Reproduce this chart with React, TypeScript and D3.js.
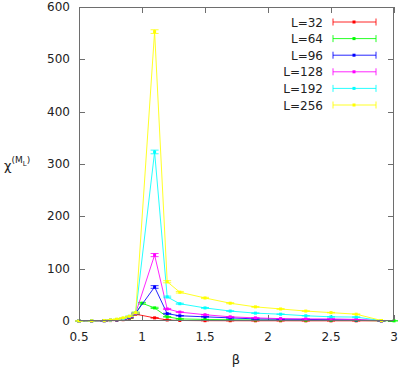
import React from "react";
import * as d3 from "d3";

const beta = [0.5, 0.6, 0.7, 0.75, 0.8, 0.85, 0.9, 0.95, 1.0, 1.1, 1.2, 1.3, 1.5, 1.7, 1.9, 2.1, 2.3, 2.5, 2.7, 2.9, 3.0];

// null = no measurement at that β for this lattice size
const chi32 = [0.1, 0.2, 0.5, 0.8, 1.5, 2.5, 5, 13, null, 6, 2, 1, 0.6, 0.5, 0.4, 0.4, 0.3, 0.3, 0.3, 0.2, null];
const chi64 = [0.1, 0.2, 0.6, 1, 2, 3, 6, 14, 34, 25, 8, 4, 3, 2.5, 2, 1.8, 1.5, 1.3, 1.2, 0.5, 0.3];
const chi96 = [0.1, 0.3, 0.7, 1.2, 2.2, 3.5, 7, 15, null, 65, 14, 10, 8, 6, 4, 3.5, 3, 2.5, 2, 0.6, null];
const chi128 = [0.1, 0.3, 0.8, 1.4, 2.5, 4, 8, 15, null, 126, 23, 17, 12, 8, 6, 4.5, 4, 4, 3, 0.7, null];
const chi192 = [0.1, 0.4, 0.9, 1.6, 3, 5, 9, 16, null, 323, 46, 33, 25, 19, 15, 13, 10, 8, 7.5, 0.8, null];
const chi256 = [0.1, 0.4, 1, 2, 3.5, 6, 9, 16, null, 553, 75, 55, 44, 34, 27, 23, 19, 16, 13, 1, null];

const err32 = [0, 0, 0, 0, 0.1, 0.1, 0.2, 0.8, 0, 0.3, 0.1, 0.1, 0, 0, 0, 0, 0, 0, 0, 0, 0];
const err64 = [0, 0, 0, 0, 0.1, 0.1, 0.2, 0.8, 1.5, 1.2, 0.4, 0.2, 0.1, 0.1, 0.1, 0.1, 0.1, 0.1, 0.1, 0, 0];
const err96 = [0, 0, 0, 0, 0.1, 0.1, 0.3, 0.9, 0, 2.5, 0.7, 0.4, 0.3, 0.2, 0.2, 0.2, 0.1, 0.1, 0.1, 0, 0];
const err128 = [0, 0, 0, 0, 0.1, 0.2, 0.3, 1, 0, 3, 1, 0.7, 0.5, 0.4, 0.3, 0.2, 0.2, 0.2, 0.2, 0, 0];
const err192 = [0, 0, 0, 0.1, 0.1, 0.2, 0.4, 1, 0, 3.5, 1.5, 1, 0.8, 0.6, 0.5, 0.4, 0.4, 0.3, 0.3, 0, 0];
const err256 = [0, 0, 0, 0.1, 0.1, 0.2, 0.4, 1.2, 0, 3.5, 2, 1.5, 1.2, 1, 0.8, 0.7, 0.6, 0.5, 0.5, 0.1, 0];

const seriesNames = ["L=32", "L=64", "L=96", "L=128", "L=192", "L=256"];
const seriesValues = [chi32, chi64, chi96, chi128, chi192, chi256];
const seriesErrors = [err32, err64, err96, err128, err192, err256];
const seriesColors = ["#ff0000", "#00ff00", "#0000ff", "#ff00ff", "#00ffff", "#ffff00"];

const xTicks = [0.5, 1, 1.5, 2, 2.5, 3];
const xTickLabels = ["0.5", "1", "1.5", "2", "2.5", "3"];
const yTicks = [0, 100, 200, 300, 400, 500, 600];

const W = 399;
const H = 372;
const left = 79;
const right = 394;
const top = 7;
const bottom = 321;
const font = "'DejaVu Sans', sans-serif";
const axisColor = "#6e6e6e";

export default function App() {
  const x = d3.scaleLinear().domain([0.5, 3]).range([left, right]);
  const y = d3.scaleLinear().domain([0, 600]).range([bottom, top]);
  const line = d3
    .line<[number, number, number]>()
    .x((d) => x(d[0]))
    .y((d) => y(d[1]));
  const tickLen = 6;
  const capW = 4;

  return (
    <svg width={W} height={H} style={{ position: "absolute", left: 0, top: 0, background: "#fff" }}>
      <rect x={0} y={0} width={W} height={H} fill="#fff" />
      {xTicks.map((t, i) => (
        <g key={"xt" + i}>
          <line x1={Math.round(x(t)) + 0.5} x2={Math.round(x(t)) + 0.5} y1={bottom} y2={bottom - tickLen} stroke={axisColor} />
          <line x1={Math.round(x(t)) + 0.5} x2={Math.round(x(t)) + 0.5} y1={top} y2={top + tickLen} stroke={axisColor} />
          <text x={x(t)} y={341} fontSize={12} fontFamily={font} textAnchor="middle" fill="#222">
            {xTickLabels[i]}
          </text>
        </g>
      ))}
      {yTicks.map((t, i) => (
        <g key={"yt" + i}>
          <line x1={left} x2={left + tickLen} y1={Math.round(y(t)) + 0.5} y2={Math.round(y(t)) + 0.5} stroke={axisColor} />
          <line x1={right} x2={right - tickLen} y1={Math.round(y(t)) + 0.5} y2={Math.round(y(t)) + 0.5} stroke={axisColor} />
          <text x={70} y={y(t) + 4} fontSize={12} fontFamily={font} textAnchor="end" fill="#222">
            {t}
          </text>
        </g>
      ))}
      {seriesValues.map((vals, si) => {
        const pts = beta
          .map((b, i) => [b, vals[i], seriesErrors[si][i]] as [number, number | null, number])
          .filter((p) => p[1] !== null) as [number, number, number][];
        const col = seriesColors[si];
        return (
          <g key={"s" + si}>
            <path d={line(pts) || ""} fill="none" stroke={col} strokeWidth={1} strokeOpacity={0.85} />
            {pts.map((p, i) => {
              const e = p[2];
              const cx = x(p[0]);
              const yl = y(p[1] - e);
              const yh = y(p[1] + e);
              return (
                <g key={i}>
                  <line x1={cx} x2={cx} y1={yl} y2={yh} stroke={col} />
                  <line x1={cx - capW} x2={cx + capW} y1={yl} y2={yl} stroke={col} strokeOpacity={0.8} />
                  <line x1={cx - capW} x2={cx + capW} y1={yh} y2={yh} stroke={col} strokeOpacity={0.8} />
                  <rect x={cx - 1.5} y={y(p[1]) - 1.5} width={3} height={3} fill={col} />
                </g>
              );
            })}
          </g>
        );
      })}
      <rect x={left + 0.5} y={top + 0.5} width={right - left - 1} height={bottom - top - 1} fill="none" stroke={axisColor} />
      {seriesNames.map((n, i) => {
        const ly = 22 + i * 16.6;
        const col = seriesColors[i];
        return (
          <g key={"lg" + i}>
            <text x={323} y={ly + 4.5} fontSize={12} fontFamily={font} textAnchor="end" fill="#222">
              {n}
            </text>
            <line x1={333} x2={376} y1={ly} y2={ly} stroke={col} strokeOpacity={0.85} />
            <line x1={333} x2={333} y1={ly - 3.5} y2={ly + 3.5} stroke={col} strokeOpacity={0.85} />
            <line x1={376} x2={376} y1={ly - 3.5} y2={ly + 3.5} stroke={col} strokeOpacity={0.85} />
            <rect x={352.5} y={ly - 1.5} width={3} height={3} fill={col} />
          </g>
        );
      })}
      <text x={236} y={364} fontSize={13} fontFamily={font} textAnchor="middle" fill="#222">
        β
      </text>
      <text x={4} y={170} fontSize={13} fontFamily={font} fill="#222">
        χ
        <tspan fontSize={9} dy={-7}>(M</tspan>
        <tspan fontSize={7} dy={3}>L</tspan>
        <tspan fontSize={9} dy={-3}>)</tspan>
      </text>
    </svg>
  );
}
